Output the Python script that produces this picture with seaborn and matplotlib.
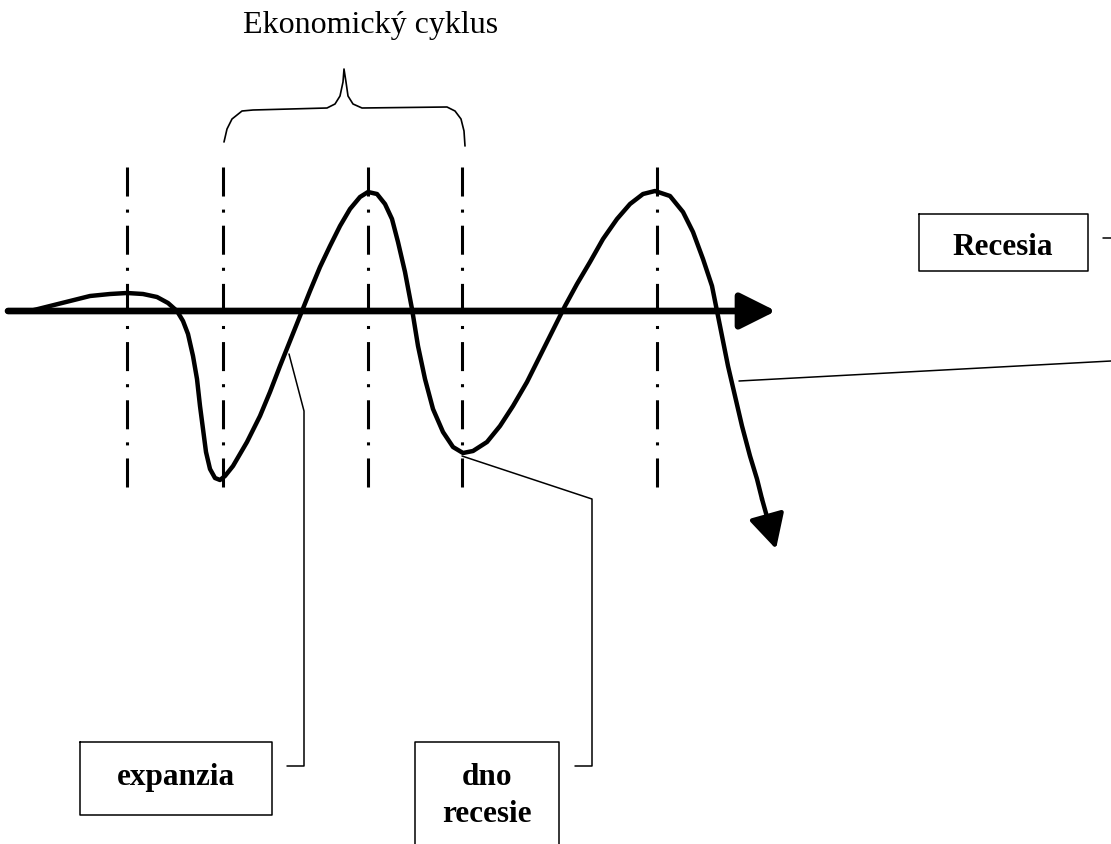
import matplotlib
matplotlib.use("Agg")
import matplotlib.pyplot as plt
import seaborn as sns

# =========================
# Data (pixel coordinates, y grows downwards)
# =========================
curve_x = [30, 50, 70, 90, 110, 127, 143, 157, 168, 177, 183, 188, 193, 197, 200,
           203, 206, 210, 215, 220, 225, 233, 247, 260, 270, 280, 290, 300, 310,
           320, 330, 340, 350, 360, 368, 377, 385, 392, 398, 405, 412, 418, 425,
           433, 443, 453, 463, 473, 487, 500, 513, 527, 540, 553, 565, 577, 590,
           603, 617, 630, 643, 655, 670, 683, 693, 703, 712, 717, 722, 728, 735,
           742, 750, 757, 762]
curve_y = [312, 307, 302, 297, 295, 294, 295, 298, 304, 312, 322, 335, 357, 380, 407,
           430, 453, 470, 479, 481, 477, 467, 443, 417, 393, 367, 342, 317, 292,
           268, 247, 227, 210, 198, 193, 195, 205, 220, 243, 273, 310, 347, 380,
           410, 433, 448, 454, 452, 443, 427, 407, 383, 357, 331, 307, 285, 263,
           240, 220, 205, 195, 192, 197, 213, 233, 260, 287, 312, 337, 367, 397,
           427, 457, 480, 500]
curve_tip = (776, 550)

axis_y = 312
axis_start = 8
axis_tip = 776

cycle_x = [127, 223, 368, 462, 657]
cycle_top, cycle_bottom = 168, 501

brace_x = [224, 227, 232, 242, 253, 327, 335, 340, 343, 344,
           346, 348, 353, 362, 447, 455, 461, 464, 465]
brace_y = [143, 130, 120, 112, 111, 109, 105, 97, 83, 70,
           83, 97, 105, 109, 108, 112, 120, 132, 147]

title = "Ekonomický cyklus"

# label boxes: (left, top, right, bottom)
boxes = {"expanzia": (80, 743, 272, 816),
         "Recesia": (919, 215, 1088, 272)}
dno_box = (415, 743, 559, 846)

# leader lines
expanzia_x = [289, 304, 304, 287]
expanzia_y = [355, 412, 767, 767]
dno_x = [462, 592, 592, 575]
dno_y = [457, 500, 767, 767]
recesia_x = [739, 1111]
recesia_y = [382, 362]
recesia_tick_x = [1103, 1111]
recesia_tick_y = [239, 239]

# =========================
# Style
# =========================
sns.set_theme(style="white")
plt.rcParams["font.family"] = ["Liberation Serif", "DejaVu Serif"]
plt.rcParams["text.color"] = "black"
plt.rcParams["lines.scale_dashes"] = False

fig = plt.figure(figsize=(11.11, 8.45), dpi=100)
ax = fig.add_axes([0, 0, 1, 1])
ax.set_xlim(0, 1111)
ax.set_ylim(845, 0)
ax.axis("off")

# =========================
# Dash-dot cycle markers
# =========================
ax.vlines(cycle_x, cycle_top, cycle_bottom, colors="black", linewidth=2.2,
          linestyles=[(0, (20.9, 9.4, 2.2, 9.4))])

# =========================
# Horizontal axis with arrow
# =========================
ax.annotate("", xy=(axis_tip, axis_y), xytext=(axis_start, axis_y),
            arrowprops=dict(arrowstyle="-|>,head_length=1.1,head_width=0.55",
                            mutation_scale=20, lw=4.8, color="black",
                            shrinkA=0, shrinkB=0))

# =========================
# Cycle curve
# =========================
sns.lineplot(x=curve_x, y=curve_y, sort=False, estimator=None, color="black",
             linewidth=3.2, ax=ax, solid_joinstyle="round", solid_capstyle="round")
ax.annotate("", xy=curve_tip, xytext=(curve_x[-1], curve_y[-1]),
            arrowprops=dict(arrowstyle="-|>,head_length=1.05,head_width=0.55",
                            mutation_scale=20, lw=3.2, color="black",
                            shrinkA=0, shrinkB=0))

# =========================
# Brace + title
# =========================
sns.lineplot(x=brace_x, y=brace_y, sort=False, estimator=None, color="black",
             linewidth=1.2, ax=ax, solid_joinstyle="round")
ax.text(371, 33, title, ha="center", va="baseline", fontsize=23, color="black")

# =========================
# Leaders
# =========================
for lx, ly in [(expanzia_x, expanzia_y), (dno_x, dno_y),
               (recesia_x, recesia_y), (recesia_tick_x, recesia_tick_y)]:
    ax.plot(lx, ly, color="black", linewidth=1.1)

# =========================
# Label boxes
# =========================
for label, (l, t, r, b) in boxes.items():
    ax.plot([l, r, r, l, l], [t, t, b, b, t], color="black", linewidth=1.1)
l, t, r, b = dno_box
ax.plot([l, l, r, r], [b, t, t, b], color="black", linewidth=1.1)

bold = dict(ha="center", va="baseline", fontsize=22.5, fontweight="bold", color="black")
ax.text(176, 785, "expanzia", **bold)
ax.text(1003, 255, "Recesia", **bold)
ax.text(487, 785, "dno", **bold)
ax.text(487, 822, "recesie", **bold)

fig.savefig("out.png", dpi=100, facecolor="white")
